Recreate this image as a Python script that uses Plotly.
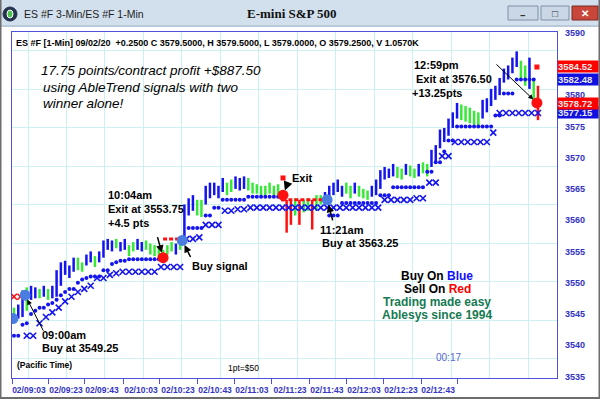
import plotly.graph_objects as go

# ---------------- data ----------------
# 2-minute bars, minutes from chart start
bar_minutes = list(range(0, 248, 2))
bar_high = [3546.0, 3546.5, 3548.75, 3549.25, 3549.5, 3549.25, 3549.0, 3549.5, 3549.0, 3549.5,
            3552.0, 3553.25, 3553.5, 3552.75, 3554.0, 3554.0, 3553.25, 3554.5, 3555.0, 3554.25,
            3555.0, 3556.75, 3557.0, 3556.75, 3557.0, 3556.5, 3557.0, 3556.0, 3556.5, 3557.0,
            3556.5, 3556.75, 3556.25, 3556.0, 3555.5, 3555.25, 3556.0, 3556.5, 3556.25, 3556.75,
            3562.5, 3563.5, 3564.0, 3563.25, 3563.25, 3565.5, 3566.0, 3566.0, 3565.5, 3566.75,
            3566.0, 3566.5, 3567.0, 3566.75, 3567.0, 3566.75, 3566.0, 3565.75, 3565.5, 3565.5,
            3566.0, 3565.5, 3565.75, 3564.75, 3563.25, 3563.25, 3563.5, 3563.25, 3563.25, 3563.5,
            3563.25, 3564.0, 3564.0, 3564.5, 3565.5, 3566.0, 3566.5, 3565.5, 3566.0, 3565.5,
            3566.0, 3565.5, 3565.0, 3564.75, 3565.5, 3566.5, 3568.0, 3568.5, 3568.25, 3569.0,
            3568.5, 3568.25, 3569.0, 3568.75, 3568.25, 3569.0, 3569.25, 3569.0, 3571.25, 3572.0,
            3574.5, 3574.75, 3576.25, 3577.25, 3578.75, 3578.5, 3578.25, 3578.0, 3577.5, 3577.25,
            3579.25, 3579.5, 3581.0, 3581.5, 3582.75, 3584.25, 3584.75, 3586.0, 3587.0, 3585.5,
            3584.75, 3586.0, 3582.5, 3581.5]
bar_low = [3543.75, 3544.25, 3544.5, 3545.5, 3547.25, 3547.5, 3547.5, 3547.75, 3547.25, 3547.5,
           3547.75, 3549.5, 3551.25, 3550.75, 3551.75, 3552.0, 3551.75, 3552.75, 3553.25, 3552.5,
           3553.25, 3554.0, 3555.25, 3555.0, 3555.5, 3555.0, 3555.25, 3554.25, 3555.0, 3555.25,
           3555.0, 3555.25, 3554.5, 3554.25, 3554.0, 3553.5, 3554.5, 3555.0, 3554.5, 3555.25,
           3556.75, 3560.75, 3561.5, 3560.75, 3560.5, 3562.5, 3563.5, 3564.0, 3563.5, 3564.5,
           3564.0, 3564.5, 3565.0, 3564.75, 3565.0, 3564.75, 3564.25, 3564.25, 3564.0, 3564.0,
           3564.25, 3564.0, 3564.0, 3563.0, 3558.0, 3559.25, 3560.75, 3559.25, 3561.25, 3561.5,
           3558.5, 3561.5, 3562.5, 3563.0, 3563.25, 3564.0, 3564.5, 3563.75, 3564.25, 3563.5,
           3564.25, 3563.75, 3563.5, 3563.25, 3563.75, 3564.0, 3565.0, 3566.5, 3566.75, 3567.0,
           3566.75, 3566.5, 3567.25, 3567.0, 3566.75, 3567.0, 3567.5, 3567.0, 3568.5, 3569.25,
           3571.5, 3572.5, 3573.5, 3574.75, 3576.25, 3576.0, 3575.75, 3575.5, 3575.25, 3575.0,
           3576.25, 3577.25, 3578.25, 3579.25, 3580.0, 3582.0, 3582.5, 3583.5, 3584.5, 3582.5,
           3581.5, 3581.0, 3579.25, 3576.0]
# trend state of each bar: b = bull (blue), g = neutral (green), r = bear (red)
bar_state = list("gbbgbbgbgb" "bbbbbggbbg" "bbbbgbbggb" "bgggggggbg" "bbbggbbbbb"
                 "ggbbbggggg" "gggrrrgrgg" "rggbbbbbgg" "bgggbbbbbb" "ggbggbggbb"
                 "bbbbbggggg" "bbbbbbbbbg" "gbgr")
# trailing stop (blue dots), one value per bar
trail_stop = [3541.5, 3541.5, 3543.25, 3543.5, 3545.0, 3545.5, 3546.0, 3546.0, 3546.5, 3546.75,
              3547.25, 3548.0, 3548.5, 3549.0, 3549.0, 3550.0, 3550.5, 3550.75, 3551.0, 3551.0,
              3551.0, 3552.0, 3552.0, 3553.0, 3553.25, 3553.5, 3553.5, 3553.75, 3553.75, 3553.75,
              3553.75, 3553.75, 3553.75, 3553.75, 3553.75, 3553.75, None, None, None, None,
              None, 3558.75, 3558.75, 3558.75, 3558.75, 3560.75, 3560.75, 3562.0, 3562.0, 3563.25,
              3563.25, 3563.25, 3563.25, 3563.25, 3563.25, 3563.75, 3563.75, 3563.75, 3563.75, 3563.75,
              3563.75, 3563.75, 3563.75, None, None, None, None, None, None, None,
              None, None, None, None, 3560.75, 3560.75, 3560.75, 3562.75, 3562.75, 3562.75,
              3562.75, 3562.75, 3562.75, 3562.75, 3562.75, 3562.75, 3564.0, 3564.0, 3564.0, 3565.25,
              3565.25, 3565.25, 3565.25, 3565.25, 3565.25, 3565.25, 3565.25, 3567.75, 3567.75, 3569.25,
              3569.25, 3571.0, 3572.75, 3572.75, 3575.0, 3575.0, 3575.0, 3575.0, 3575.0, 3575.0,
              3575.0, 3575.0, 3575.0, 3576.75, 3576.75, 3580.25, 3580.25, 3580.25, 3582.5, 3582.5,
              3582.5, 3582.5, 3582.5, None]
# sell stop levels (red)
red_stop_minutes = [70, 80, None, 126, 148]
red_stop_values = [3557.0, 3557.0, None, 3563.25, 3563.25]
# 3-minute X-line
xline_red_minutes = [0, 3]
xline_red_values = [3547.75, 3547.75]
xline_minutes = list(range(6, 249, 3))
xline_values = [3541.5, 3541.5, 3543.5, 3544.5, 3545.25, 3546.0, 3547.0, 3547.75,
                3548.5, 3549.0, 3549.5, 3550.75, 3550.75, 3551.25, 3551.5, 3551.75, 3551.75, 3551.75,
                3551.75, 3551.75, 3551.75, 3552.5, 3552.5, 3552.5, 3552.5, 3557.0, 3557.0, 3557.25,
                3559.25, 3559.25, 3559.25, 3561.5, 3561.5, 3561.75, 3561.75, 3562.0, 3562.0, 3562.0,
                3562.0, 3562.0, 3562.0, 3562.0, 3562.0, 3562.0, 3562.0, 3562.0, 3562.0, 3562.0,
                3562.0, 3562.0, 3562.0, 3562.0, 3562.0, 3562.0, 3562.0, 3562.0, 3563.25, 3563.25,
                3563.25, 3563.25, 3563.25, 3563.5, 3563.5, 3566.0, 3566.0, 3570.25, 3570.25, 3572.5,
                3572.5, 3572.5, 3572.5, 3572.5, 3572.5, 3574.0, 3577.15, 3577.15, 3577.15, 3577.15,
                3577.15, 3577.15, 3577.15]
# signals
buy_minutes = [-0.5, 5.2, 79.0, 147.0]
buy_prices = [3544.25, 3548.0, 3556.75, 3563.25]
sell_minutes = [70.0, 126.3, 245.5]
sell_prices = [3554.0, 3564.0, 3578.75]
small_stop_minutes = [126.3, 245.5]
small_stop_prices = [3566.75, 3584.5]
# price tags on the right axis
tag_values = [3582.48, 3577.15, 3584.52, 3578.72]
tag_colors = ["#1010e0", "#1010e0", "#ff0000", "#ff0000"]
# axis
y_ticks = [3535, 3540, 3545, 3550, 3555, 3560, 3565, 3570, 3575, 3580, 3585, 3590]
x_label_minutes = [7.0, 24.4, 41.3, 59.6, 77.0, 94.4, 111.7, 129.6, 146.9, 164.3, 181.7, 199.1]
x_tick_labels = ["02/09:03", "02/09:23", "02/09:43", "02/10:03", "02/10:23", "02/10:43",
                 "02/11:03", "02/11:23", "02/11:43", "02/12:03", "02/12:23", "02/12:43"]
x_tick_minutes = [-0.9, 16.0, 33.3, 51.2, 68.5, 86.0, 103.3, 121.1, 138.5, 156.3, 173.7, 191.1, 208.0]

BLUE = "#1414ee"
GREEN = "#38e838"
RED = "#ff1010"
AXBLUE = "#3434c4"
FONT = "Liberation Sans, Arial, sans-serif"

fig = go.Figure()

# dummy on grid axes
fig.add_trace(go.Scatter(x=[None], y=[None], xaxis="x2", yaxis="y2", showlegend=False, hoverinfo="skip"))

# bars by state
for st, col in (("g", GREEN), ("b", BLUE), ("r", RED)):
    xs, ys = [], []
    for t, h, l, s in zip(bar_minutes, bar_high, bar_low, bar_state):
        if s == st:
            xs += [t, t, None]
            ys += [l, h, None]
    fig.add_trace(go.Scatter(x=xs, y=ys, mode="lines", line=dict(color=col, width=2.5),
                             showlegend=False, hoverinfo="skip"))

# X line
fig.add_trace(go.Scatter(x=xline_minutes, y=xline_values, mode="markers",
                         marker=dict(symbol="x-thin", size=6, line=dict(color=BLUE, width=1.6)),
                         showlegend=False))
fig.add_trace(go.Scatter(x=xline_red_minutes, y=xline_red_values, mode="markers",
                         marker=dict(symbol="x-thin", size=6, line=dict(color=RED, width=1.6)),
                         showlegend=False))
# trailing stop dots
fig.add_trace(go.Scatter(x=bar_minutes, y=trail_stop, mode="markers",
                         marker=dict(symbol="circle", size=4, color=BLUE), showlegend=False))
# red stop
fig.add_trace(go.Scatter(x=red_stop_minutes, y=red_stop_values, mode="lines",
                         line=dict(color=RED, width=3, dash="4px,2px"), showlegend=False))
# signals
fig.add_trace(go.Scatter(x=buy_minutes, y=buy_prices, mode="markers",
                         marker=dict(size=11, color="#4a7de0"), showlegend=False))
fig.add_trace(go.Scatter(x=sell_minutes, y=sell_prices, mode="markers",
                         marker=dict(size=11, color=RED), showlegend=False))
fig.add_trace(go.Scatter(x=small_stop_minutes, y=small_stop_prices, mode="markers",
                         marker=dict(size=5, color=RED, symbol="square"), showlegend=False))

PX0, PX1, PY0, PY1 = 12, 557, 32, 378


def P(px, py):
    return (px - PX0) / (PX1 - PX0), (PY1 - py) / (PY1 - PY0)


anns = []


def txt(s, px, py, size=11, color="black", xanchor="left", family=FONT):
    x, y = P(px, py)
    anns.append(dict(xref="paper", yref="paper", x=x, y=y, text=s, showarrow=False,
                     xanchor=xanchor, yanchor="middle", font=dict(size=size, color=color, family=family)))


# header line
txt("<b>ES #F [1-Min] 09/02/20&nbsp;&nbsp;+0.2500 C 3579.5000, H 3579.5000, L 3579.0000, O 3579.2500, V 1.0570K</b>",
    14, 43, size=9)
# big italic note
txt("<i>17.75 points/contract profit +$887.50</i>", 39, 70, size=13.5)
txt("<i>using AbleTrend signals with two</i>", 41, 87, size=13.5)
txt("<i>winner alone!</i>", 41, 103, size=13.5)
# event notes
for s, px, py in [("10:04am", 106, 195), ("Exit at 3553.75", 106, 209), ("+4.5 pts", 106, 223),
                  ("Buy signal", 190, 266), ("09:00am", 40, 335), ("Buy at 3549.25", 40, 348),
                  ("Exit", 290, 178), ("11:21am", 318, 230), ("Buy at 3563.25", 320, 243),
                  ("12:59pm", 412, 65), ("Exit at 3576.50", 414, 79), ("+13.25pts", 410, 93)]:
    txt("<b>" + s + "</b>", px, py, size=11)
# legend block
txt("<b>Buy On <span style='color:#1010ff'>Blue</span></b>", 437, 276, size=12, xanchor="center")
txt("<b>Sell On <span style='color:#ff0000'>Red</span></b>", 437, 289, size=12, xanchor="center")
txt("<b>Trading made easy</b>", 437, 302, size=12, color="#167a52", xanchor="center")
txt("<b>Ablesys since 1994</b>", 437, 315, size=12, color="#167a52", xanchor="center")
txt("<b>(Pacific Time)</b>", 15, 365, size=8.5)
txt("1pt=$50", 243, 368, size=8.5, xanchor="center")
txt("00:17", 448, 357, size=10, color="#5466d6", xanchor="center")

# arrows (head at signal markers)
for (t, p, ax, ay, w) in [(buy_minutes[1], buy_prices[1], 19, 37, 1),
                          (sell_minutes[0], sell_prices[0], -6, -22, 1.5),
                          (buy_minutes[2], buy_prices[2], 9, 18, 1.5),
                          (sell_minutes[1], sell_prices[1], 5, -13, 1.8),
                          (buy_minutes[3], buy_prices[3], 6, 22, 1.5),
                          (sell_minutes[2], sell_prices[2], -42, -40, 1)]:
    anns.append(dict(x=t, y=p, xref="x", yref="y", ax=ax, ay=ay, axref="pixel", ayref="pixel",
                     text="", showarrow=True, arrowhead=2, arrowsize=1, arrowwidth=w,
                     arrowcolor="black", standoff=5))

# price tags
for v, c in zip(tag_values, tag_colors):
    anns.append(dict(xref="paper", yref="y", x=1.0, y=v, xanchor="left", yanchor="middle",
                     text="<b>%.2f&nbsp;&nbsp;</b>" % v, showarrow=False, bgcolor=c, borderpad=0,
                     font=dict(size=9.5, color="#e6e6e6", family=FONT)))

# window chrome
shapes = []


def rect(x0, y0, x1, y1, fill, line=None, lw=0, layer="above"):
    a, b = P(x0, y0)
    c, d = P(x1, y1)
    shapes.append(dict(type="rect", xref="paper", yref="paper", x0=a, y0=b, x1=c, y1=d,
                       fillcolor=fill, line=dict(color=line or fill, width=lw), layer=layer))


rect(0, 0, 600, 26, "#d2dfec", layer="below")
rect(0, 25, 600, 27, "#b9c9da", layer="below")
rect(508, 6, 538, 20, "#c9d7e6", "#7f91a6", 1)
rect(541, 6, 569, 20, "#c9d7e6", "#7f91a6", 1)
rect(572, 6, 598, 20, "#c9473a", "#7a2a22", 1)
x, y = P(523, 13)
anns.append(dict(xref="paper", yref="paper", x=x, y=y, text="<b>–</b>", showarrow=False,
                 font=dict(size=11, color="#333"), xanchor="center", yanchor="middle"))
x, y = P(555, 13)
anns.append(dict(xref="paper", yref="paper", x=x, y=y, text="□", showarrow=False,
                 font=dict(size=10, color="#333"), xanchor="center", yanchor="middle"))
x, y = P(585, 13)
anns.append(dict(xref="paper", yref="paper", x=x, y=y, text="<b>✕</b>", showarrow=False,
                 font=dict(size=10, color="white"), xanchor="center", yanchor="middle"))
a, b = P(3, 7)
c, d = P(17, 21)
shapes.append(dict(type="circle", xref="paper", yref="paper", x0=a, y0=b, x1=c, y1=d,
                   fillcolor="#23324d", line=dict(color="#23324d", width=1)))
a, b = P(7, 10)
c, d = P(13, 18)
shapes.append(dict(type="circle", xref="paper", yref="paper", x0=a, y0=b, x1=c, y1=d,
                   fillcolor="#4cc04c", line=dict(color="white", width=1)))
txt("ES #F 3-Min/ES #F 1-Min", 22, 14, size=10.5, color="#1e1e1e")
txt("<b>E-mini S&P 500</b>", 292, 14, size=13, color="#111", xanchor="center",
    family="Liberation Serif, Times New Roman, serif")
# outer frame
rect(0, 397, 600, 399, "#6d6d6d", layer="below")
rect(0, 0, 1.5, 399, "#6d6d6d", layer="below")
rect(598.5, 0, 600, 399, "#6d6d6d", layer="below")

xr = [-0.94, 254.93]
yr = [3534.75, 3590.1]
fig.update_layout(
    width=600, height=399, margin=dict(l=12, r=43, t=32, b=21, autoexpand=False),
    paper_bgcolor="white", plot_bgcolor="white", showlegend=False,
    annotations=anns, shapes=shapes,
    xaxis=dict(range=xr, showgrid=False, zeroline=False, tickvals=x_label_minutes, ticktext=x_tick_labels,
               ticks="", showline=True, linecolor="#5050d8", automargin=False,
               mirror=True, linewidth=1.2, ticklabelstandoff=4,
               minor=dict(tickmode="array", tickvals=x_tick_minutes, ticks="outside", ticklen=5,
                          tickcolor="#5050d8", tickwidth=1, showgrid=False),
               tickfont=dict(size=8.5, color=AXBLUE, family=FONT, weight="bold")),
    yaxis=dict(range=yr, side="right", showgrid=False, zeroline=False, tickvals=y_ticks,
               ticks="", showline=True, linecolor="#5050d8", mirror=True, linewidth=1.2,
               ticklabelstandoff=5, automargin=False,
               tickfont=dict(size=9, color=AXBLUE, family=FONT, weight="bold")),
    xaxis2=dict(range=xr, overlaying="x", showgrid=True, gridcolor="#cdf1f1", gridwidth=1,
                tick0=6.57, dtick=18.06, showticklabels=False, zeroline=False, ticks="", automargin=False),
    yaxis2=dict(range=yr, overlaying="y", showgrid=True, gridcolor="#cdf1f1", gridwidth=1,
                tick0=3544.0, dtick=6.16, showticklabels=False, zeroline=False, ticks="", automargin=False),
)
fig.write_html("out.html", config={"displayModeBar": False},
               post_script="document.body.style.margin='0';document.body.style.overflow='hidden';")
